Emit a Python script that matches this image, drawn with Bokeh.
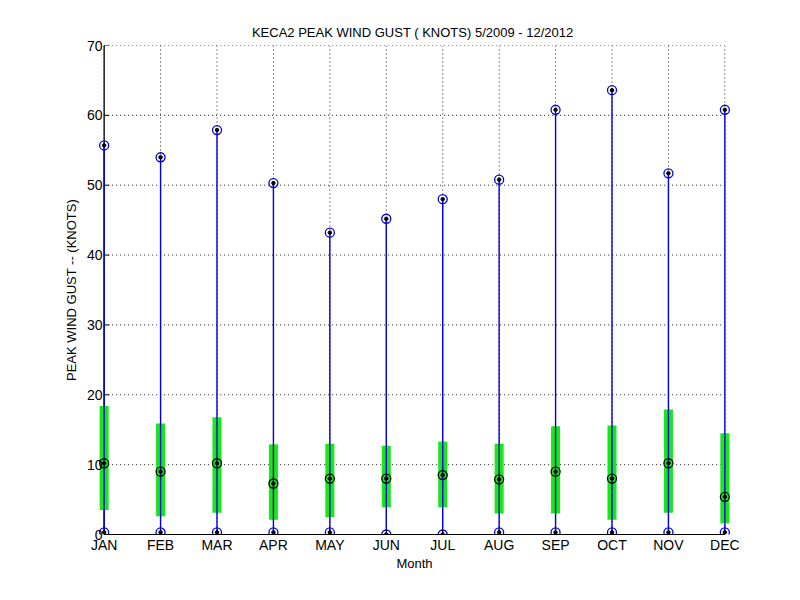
from bokeh.plotting import figure
from bokeh.models import FixedTicker, Range1d
from bokeh.embed import file_html
from bokeh.resources import INLINE

months = ["JAN", "FEB", "MAR", "APR", "MAY", "JUN", "JUL", "AUG", "SEP", "OCT", "NOV", "DEC"]
month_pos = list(range(1, 13))
gust_max = [55.7, 54.0, 57.9, 50.3, 43.2, 45.2, 48.0, 50.8, 60.8, 63.6, 51.7, 60.8]
gust_min = [0.3, 0.3, 0.3, 0.3, 0.3, 0.0, 0.0, 0.3, 0.3, 0.3, 0.3, 0.3]
gust_median = [10.2, 9.0, 10.2, 7.3, 8.0, 8.0, 8.5, 7.9, 9.0, 8.0, 10.2, 5.4]
gust_q1 = [3.5, 2.6, 3.1, 2.1, 2.5, 3.9, 3.9, 3.0, 3.0, 2.1, 3.1, 1.6]
gust_q3 = [18.4, 15.9, 16.8, 12.9, 13.0, 12.7, 13.3, 13.0, 15.5, 15.6, 17.9, 14.5]
y_ticks = [0, 10, 20, 30, 40, 50, 60, 70]

FONT = "Liberation Sans"

x_lo, x_hi = month_pos[0], month_pos[-1]
y_lo, y_hi = y_ticks[0], y_ticks[-1]

# small padding in x so the JAN / DEC marks are not clipped by the frame
p = figure(width=784, height=584, output_backend="svg", toolbar_location=None,
           x_range=Range1d(x_lo - 0.1, x_hi + 0.1), y_range=Range1d(y_lo, y_hi),
           min_border_left=98, min_border_right=54, min_border_top=45, min_border_bottom=50,
           title="KECA2  PEAK WIND GUST ( KNOTS) 5/2009 - 12/2012")

p.outline_line_color = None
p.background_fill_color = "white"
p.border_fill_color = "white"

p.title.align = "center"
p.title.text_font = FONT
p.title.text_font_size = "13px"
p.title.text_font_style = "normal"
p.title.text_color = "black"
p.title.standoff = 11

for ax in (p.xaxis[0], p.yaxis[0]):
    ax.axis_line_color = "black"
    ax.major_tick_line_color = "black"
    ax.major_tick_in = 5
    ax.major_tick_out = 0
    ax.minor_tick_line_color = None
    ax.major_label_text_font = FONT
    ax.major_label_text_font_size = "14px"
    ax.major_label_text_color = "black"
    ax.axis_label_text_font = FONT
    ax.axis_label_text_font_size = "13px"
    ax.axis_label_text_font_style = "normal"
    ax.axis_label_text_color = "black"

p.xaxis.ticker = FixedTicker(ticks=month_pos)
p.xaxis.major_label_overrides = {m: lab for m, lab in zip(month_pos, months)}
p.xaxis.bounds = (x_lo, x_hi)
p.xaxis.axis_label = "Month"
p.xaxis.major_label_standoff = 2
p.xaxis.axis_label_standoff = 0

# y axis labels stay in the left panel; its line and ticks are drawn at JAN below
p.yaxis.ticker = FixedTicker(ticks=y_ticks)
p.yaxis.axis_line_color = None
p.yaxis.major_tick_line_color = None
p.yaxis.major_tick_in = 0
p.yaxis.axis_label = "PEAK WIND GUST -- (KNOTS)"
p.yaxis.major_label_standoff = -4
p.yaxis.axis_label_standoff = 5

# dotted grid limited to the JAN..DEC / 0..70 box
p.xgrid.visible = False
p.ygrid.visible = False
p.segment(x0=[x_lo] * len(y_ticks), y0=y_ticks, x1=[x_hi] * len(y_ticks), y1=y_ticks,
          line_color="black", line_dash="1 3", line_width=1, line_alpha=0.9)
p.segment(x0=month_pos, y0=[y_lo] * len(month_pos), x1=month_pos, y1=[y_hi] * len(month_pos),
          line_color="black", line_dash="1 3", line_width=1, line_alpha=0.9)

# left axis line and inward ticks at JAN
p.segment(x0=[x_lo], y0=[y_lo], x1=[x_lo], y1=[y_hi], line_color="black", line_width=1.3)
p.ray(x=[x_lo] * len(y_ticks), y=y_ticks, length=5, length_units="screen", angle=0,
      line_color="black", line_width=1)

# interquartile bars
p.vbar(x=month_pos, bottom=gust_q1, top=gust_q3, width=0.16,
       fill_color="#17e817", line_color=None)
# min-max whiskers
p.segment(x0=month_pos, y0=gust_min, x1=month_pos, y1=gust_max,
          line_color="#0000dd", line_width=1.4)
# max and min markers
for vals in (gust_max, gust_min):
    p.scatter(x=month_pos, y=vals, marker="circle", size=9,
              fill_color=None, line_color="#0000dd", line_width=1.3)
    p.scatter(x=month_pos, y=vals, marker="circle", size=3.5,
              fill_color="black", line_color="black")
# median markers
p.scatter(x=month_pos, y=gust_median, marker="circle", size=9,
          fill_color=None, line_color="black", line_width=1.3)
p.scatter(x=month_pos, y=gust_median, marker="circle", size=3.5,
          fill_color="black", line_color="black")

open("out.html", "w").write(file_html(p, INLINE))
